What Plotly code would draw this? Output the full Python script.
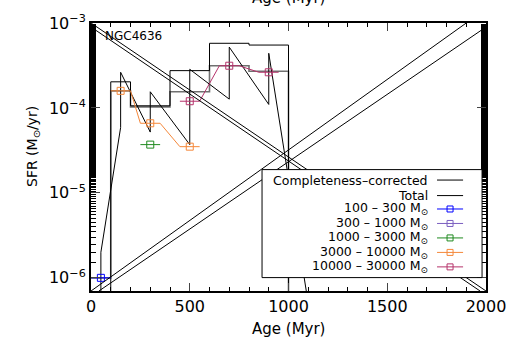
import plotly.graph_objects as go

# Age bins (Myr) and star-formation-rate histories (Msun/yr)
bin_edges = [0, 100, 200, 400, 600, 800, 1000, 2000]
sfr_corrected = [1e-9, 2.03e-4, 1.06e-4, 2.75e-4, 5.77e-4, 5.5e-4, 1e-9]
sfr_total = [1.0e-6, 1.59e-4, 1.03e-4, 1.55e-4, 3.14e-4, 2.7e-4, 1e-9]

# Error range on the total SFR
err_age = [50, 150, 300, 500, 700, 900, 1100]
err_low = [1e-9, 5.9e-5, 5.2e-5, 3.7e-5, 1.27e-4, 1.1e-4, 5e-7]
err_high = [2.0e-6, 2.63e-4, 1.55e-4, 2.85e-4, 5.2e-4, 4.4e-4, 5e-7]

# SFR split by cluster mass range
mass_labels = ["100 – 300 M<sub>⊙</sub>", "300 – 1000 M<sub>⊙</sub>",
               "1000 – 3000 M<sub>⊙</sub>", "3000 – 10000 M<sub>⊙</sub>",
               "10000 – 30000 M<sub>⊙</sub>"]
mass_colors = ["#0000ff", "#7b5fc0", "#1f8a1f", "#f5883a", "#b5336b"]
mass_ages = [[50], [], [300], [150, 300, 500], [500, 700, 900]]
mass_sfr = [[1.0e-6], [], [3.7e-5], [1.59e-4, 6.6e-5, 3.5e-5], [1.2e-4, 3.14e-4, 2.63e-4]]
half_width = 50

fig = go.Figure()

step_x = bin_edges
fig.add_trace(go.Scatter(x=step_x, y=sfr_total + [sfr_total[-1]], mode="lines",
                         line=dict(color="#707070", width=1.6, shape="hv"),
                         showlegend=False))
fig.add_trace(go.Scatter(x=step_x, y=sfr_corrected + [sfr_corrected[-1]], mode="lines",
                         line=dict(color="black", width=1, shape="hv"),
                         showlegend=False))

ex, ey = [], []
for a, lo, hi in zip(err_age, err_low, err_high):
    ex += [a, a]
    ey += [lo, hi]
fig.add_trace(go.Scatter(x=ex, y=ey, mode="lines", line=dict(color="black", width=1),
                         showlegend=False))

for ages, vals, col in zip(mass_ages, mass_sfr, mass_colors):
    lx, ly = [], []
    for a, v in zip(ages, vals):
        lx += [a - half_width, a + half_width]
        ly += [v, v]
    fig.add_trace(go.Scatter(x=lx, y=ly, mode="lines", line=dict(color=col, width=1),
                             showlegend=False))
    fig.add_trace(go.Scatter(x=ages, y=vals, mode="markers",
                             marker=dict(symbol="square-open", size=7, color=col,
                                         line=dict(width=1, color=col)),
                             showlegend=False))

shapes = []
# crossing strokes over the plot area
for x0, y0, x1, y1 in [(0, 1, 1, 0), (0, 0.985, 0.985, 0),
                       (0, 0, 0.95, 1), (0.02, 0, 1, 0.985)]:
    shapes.append(dict(type="line", xref="paper", yref="paper", x0=x0, y0=y0, x1=x1, y1=y1,
                       line=dict(color="black", width=1), layer="above"))

# legend box
shapes.append(dict(type="rect", xref="paper", yref="paper", x0=0.433, x1=0.99, y0=0.05, y1=0.453,
                   line=dict(color="black", width=1), fillcolor="white", layer="above"))

legend_rows = [0.414, 0.356, 0.306, 0.252, 0.198, 0.144, 0.090]
legend_text = ["Completeness–corrected", "Total"] + mass_labels
legend_col = ["black", "black"] + mass_colors
annotations = []
for i, (yy, txt, col) in enumerate(zip(legend_rows, legend_text, legend_col)):
    annotations.append(dict(x=0.855, y=yy, xref="paper", yref="paper", text=txt,
                            showarrow=False, xanchor="right", yanchor="middle",
                            borderpad=0, font=dict(size=12.5, color="black")))
    shapes.append(dict(type="line", xref="paper", yref="paper", x0=0.876, x1=0.942, y0=yy, y1=yy,
                       line=dict(color=col, width=1), layer="above"))
    if i >= 2:
        shapes.append(dict(type="rect", xref="paper", yref="paper", xsizemode="pixel",
                           ysizemode="pixel", xanchor=0.909, yanchor=yy,
                           x0=-3, x1=3, y0=-3, y1=3, line=dict(color=col, width=1),
                           fillcolor="rgba(0,0,0,0)", layer="above"))

annotations.append(dict(x=0.03, y=0.95, xref="paper", yref="paper", text="NGC4636",
                        showarrow=False, xanchor="left", yanchor="middle",
                        font=dict(size=12, color="black")))
annotations.append(dict(x=0.5, y=-0.14, xref="paper", yref="paper", text="Age (Myr)",
                        showarrow=False, xanchor="center", yanchor="middle",
                        font=dict(size=15, color="black")))
annotations.append(dict(x=0.5, y=1.095, xref="paper", yref="paper", text="Age (Myr)",
                        showarrow=False, xanchor="center", yanchor="middle",
                        font=dict(size=15, color="black")))
annotations.append(dict(x=-0.145, y=0.54, xref="paper", yref="paper", text="SFR (M<sub>⊙</sub>/yr)",
                        showarrow=False, textangle=-90, xanchor="center", yanchor="middle",
                        font=dict(size=14, color="black")))

ytick_vals = [1e-6, 1e-5, 1e-4, 1e-3]
ytick_text = ["10<sup>−6</sup>", "10<sup>−5</sup>", "10<sup>−4</sup>", "10<sup>−3</sup>"]
xtick_vals = [0, 500, 1000, 1500, 2000]

fig.update_layout(
    width=519, height=341,
    margin=dict(l=91, r=33, t=13, b=50),
    paper_bgcolor="white", plot_bgcolor="white",
    font=dict(family="DejaVu Sans", color="black"),
    showlegend=False,
    shapes=shapes, annotations=annotations,
    xaxis=dict(range=[0, 2000], tickvals=xtick_vals, ticks="inside", ticklen=8,
               showline=True, linecolor="black", linewidth=2, mirror="ticks",
               showgrid=False, zeroline=False, tickfont=dict(size=16),
               minor=dict(dtick=100, ticks="inside", ticklen=4, tickcolor="black")),
    yaxis=dict(type="log", range=[-6.155, -3], tickvals=ytick_vals, ticktext=ytick_text,
               ticks="inside", ticklen=9, showline=True, linecolor="black", linewidth=2,
               mirror="ticks", showgrid=False, zeroline=False, tickfont=dict(size=16),
               minor=dict(ticks="inside", ticklen=5, tickcolor="black")),
)

fig.write_html("out.html")
